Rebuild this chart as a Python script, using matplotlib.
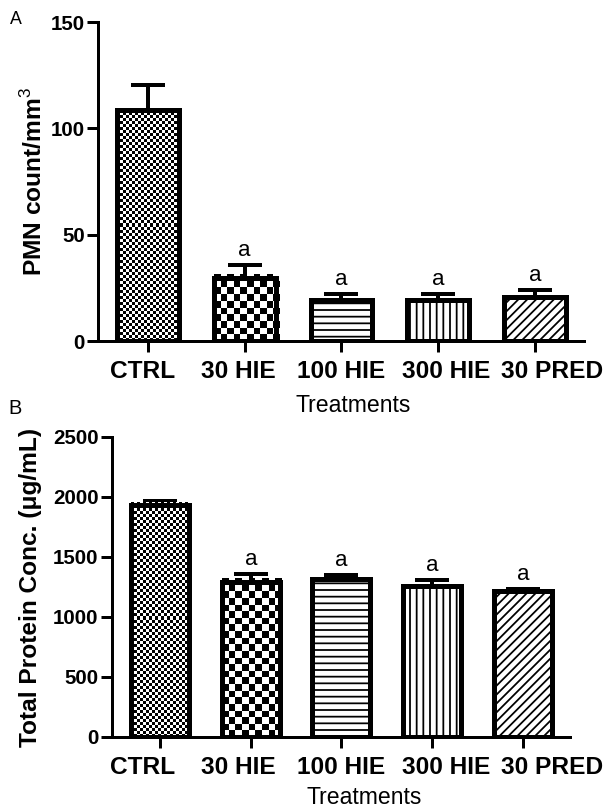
import numpy as np
import matplotlib
matplotlib.use("Agg")
import matplotlib.pyplot as plt
from matplotlib.transforms import ScaledTranslation

# ── Data ──────────────────────────────────────────────────────────────────────
TREATMENTS = ["CTRL", "30 HIE", "100 HIE", "300 HIE", "30 PRED"]
PMN_MEAN   = [108.5, 29.6, 19.4, 19.4, 20.7]
PMN_SEM    = [12.0, 6.0, 2.6, 2.6, 3.3]
PROT_MEAN  = [1935, 1295, 1320, 1260, 1220]
PROT_SEM   = [32, 67, 28, 50, 17]
SIG        = ["", "a", "a", "a", "a"]

PMN_TICKS  = [0, 50, 100, 150]
PROT_TICKS = [0, 500, 1000, 1500, 2000, 2500]

# fill style per treatment: checker cell size (px) or hatch string
FILLS = [("checker", 3.0), ("checker", 6.6), ("hatch", "--"),
         ("hatch", "||"), ("hatch", "///")]

# the original places category labels on their own grid (same in both panels)
LABEL_X_PX = [142.5, 238, 341, 446, 552]

# ── Figure setup ──────────────────────────────────────────────────────────────
W, H, DPI = 603, 812, 80
plt.rcParams["font.family"] = ["Liberation Sans", "DejaVu Sans"]
plt.rcParams["mathtext.fontset"] = "custom"
plt.rcParams["mathtext.rm"] = "Liberation Sans"
plt.rcParams["mathtext.bf"] = "Liberation Sans:bold"
plt.rcParams["hatch.linewidth"] = 1.6

fig = plt.figure(figsize=(W / DPI, H / DPI), dpi=DPI)
fig.patch.set_facecolor("white")


def px_axes(left, top, right, bottom):
    return fig.add_axes([left / W, 1 - bottom / H, (right - left) / W, (bottom - top) / H])


def checker_fill(ax, bar, cell):
    x0, y0 = bar.get_x(), bar.get_y()
    w, h = bar.get_width(), bar.get_height()
    (px0, py0), (px1, py1) = ax.transData.transform([(x0, y0), (x0 + w, y0 + h)])
    wpx, hpx = px1 - px0, py1 - py0
    nx = int(np.ceil(wpx / cell))
    ny = int(np.ceil(hpx / cell))
    grid = np.indices((ny, nx)).sum(axis=0) % 2
    ext = (x0, x0 + nx * cell / wpx * w, y0, y0 + ny * cell / hpx * h)
    ax.imshow(grid, cmap="binary", vmin=0, vmax=1, extent=ext, origin="lower",
              aspect="auto", interpolation="nearest", zorder=2.5, clip_path=bar)


def draw_panel(ax, means, sems, ticks, ylabel, xlim, ylab_x):
    x = np.arange(len(TREATMENTS))
    ax.set_xlim(*xlim)
    ax.set_ylim(ticks[0], ticks[-1])

    bars = ax.bar(x, means, width=0.64, facecolor="none", edgecolor="black",
                  linewidth=4.5, zorder=3)
    for bar, (kind, arg) in zip(bars, FILLS):
        if kind == "hatch":
            bar.set_facecolor("white")
            bar.set_hatch(arg)
        else:
            checker_fill(ax, bar, arg)

    ax.errorbar(x, means, yerr=[np.zeros(len(sems)), sems], fmt="none",
                ecolor="black", elinewidth=3.6, capsize=15, capthick=3.6, zorder=2)

    for xi, m, s, lbl in zip(x, means, sems, SIG):
        if lbl:
            ax.annotate(lbl, xy=(xi, m + s), xytext=(0, 8), textcoords="offset points",
                        ha="center", va="baseline", fontsize=20)

    ax.set_xlim(*xlim)
    ax.set_ylim(ticks[0], ticks[-1])
    ax.set_xticks(x)
    ax.set_xticklabels(TREATMENTS, fontsize=22, fontweight="bold")
    ax.set_yticks(ticks)
    ax.set_yticklabels([str(t) for t in ticks], fontsize=18.5, fontweight="bold")

    for side in ["top", "right"]:
        ax.spines[side].set_visible(False)
    for side in ["left", "bottom"]:
        ax.spines[side].set_linewidth(2.7)
    ax.tick_params(axis="both", direction="out", length=10, width=2.7)
    ax.tick_params(axis="x", pad=7)
    ax.tick_params(axis="y", pad=2)

    # shift each category label to where the original puts it
    # (after tick_params, which resets the label transforms)
    tick_px = ax.transData.transform(np.column_stack([x, np.zeros(len(x))]))[:, 0]
    for tick, tx, lx in zip(ax.xaxis.get_major_ticks(), tick_px, LABEL_X_PX):
        lab = tick.label1
        lab.set_transform(lab.get_transform() +
                          ScaledTranslation((lx - tx) / DPI, 0, fig.dpi_scale_trans))

    ax.set_ylabel(ylabel, fontsize=22, fontweight="bold", va="center")
    ax.yaxis.set_label_coords(ylab_x, 0.5)


# Panel A
ax_a = px_axes(98, 22, 584, 341)
draw_panel(ax_a, PMN_MEAN, PMN_SEM, PMN_TICKS, r"PMN count/mm$^3$",
           (-0.515, 4.505), -0.132)

# Panel B
ax_b = px_axes(112, 437, 570, 737)
draw_panel(ax_b, PROT_MEAN, PROT_SEM, PROT_TICKS, "Total Protein Conc. (μg/mL)",
           (-0.53, 4.52), -0.177)

# x labels and panel letters
fig.text(353 / W, 1 - 405 / H, "Treatments", ha="center", va="center", fontsize=20.7)
fig.text(364 / W, 1 - 798 / H, "Treatments", ha="center", va="center", fontsize=20.7)
fig.text(16 / W, 1 - 19 / H, "A", ha="center", va="center", fontsize=16)
fig.text(15 / W, 1 - 408 / H, "B", ha="center", va="center", fontsize=18)

fig.savefig("out.png", dpi=DPI, facecolor="white")
